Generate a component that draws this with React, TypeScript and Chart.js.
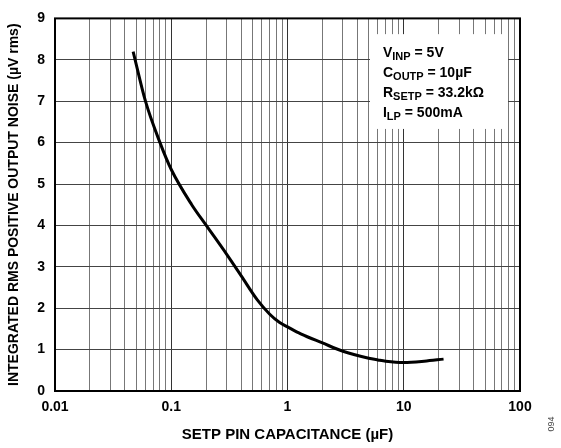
import React, { useEffect, useRef } from "react";
import { Chart, registerables } from "chart.js";

Chart.register(...registerables);

const capacitance = [0.047, 0.06, 0.08, 0.1, 0.15, 0.2, 0.3, 0.4, 0.55, 0.7, 0.85, 1, 1.3, 2, 3, 5, 6, 7, 10, 15, 22];
const noise = [8.2, 7.0, 6.0, 5.35, 4.5, 4.0, 3.3, 2.78, 2.2, 1.86, 1.66, 1.55, 1.38, 1.16, 0.96, 0.79, 0.75, 0.72, 0.69, 0.72, 0.77];

const xDecades = [0.01, 0.1, 1, 10];
const xMultipliers = [1, 2, 3, 4, 5, 6, 7, 8, 9];
const xMajorLabels = [0.01, 0.1, 1, 10, 100];
const yTicks = [0, 1, 2, 3, 4, 5, 6, 7, 8, 9];

const xTitle = "SETP PIN CAPACITANCE (µF)";
const yTitle = "INTEGRATED RMS POSITIVE OUTPUT NOISE (µV rms)";
const condLines: [string, string, string][] = [
  ["V", "INP", " = 5V"],
  ["C", "OUTP", " = 10µF"],
  ["R", "SETP", " = 33.2kΩ"],
  ["I", "LP", " = 500mA"],
];
const figureId = "094";

const FONT = "'Liberation Sans', Arial, Helvetica, sans-serif";

const overlayPlugin = {
  id: "overlay",
  beforeDatasetsDraw(chart: any) {
    const { ctx, scales } = chart;
    const xs = scales.x;
    const ys = scales.y;
    ctx.save();
    const bx0 = Math.round(xs.getPixelForValue(5)) + 1;
    const bx1 = Math.round(xs.getPixelForValue(80)) - 1;
    const by0 = ys.getPixelForValue(8.62);
    const by1 = ys.getPixelForValue(6.33);
    ctx.fillStyle = "#fff";
    ctx.fillRect(bx0, by0, bx1 - bx0, by1 - by0);
    ctx.fillStyle = "#000";
    ctx.textBaseline = "alphabetic";
    ctx.textAlign = "left";
    const tx = xs.getPixelForValue(6) + 5;
    let ty = ys.getPixelForValue(8.06);
    for (const [main, sub, rest] of condLines) {
      let x = tx;
      ctx.font = `bold 14px ${FONT}`;
      ctx.fillText(main, x, ty);
      x += ctx.measureText(main).width;
      ctx.font = `bold 11px ${FONT}`;
      ctx.fillText(sub, x, ty + 3);
      x += ctx.measureText(sub).width;
      ctx.font = `bold 14px ${FONT}`;
      ctx.fillText(rest, x, ty);
      ty += 19.8;
    }
    ctx.restore();
  },
  afterDraw(chart: any) {
    const { ctx, chartArea } = chart;
    ctx.save();
    ctx.strokeStyle = "#000";
    ctx.lineWidth = 2;
    ctx.strokeRect(chartArea.left, chartArea.top, chartArea.right - chartArea.left, chartArea.bottom - chartArea.top);
    ctx.translate(552, 424);
    ctx.rotate(-Math.PI / 2);
    ctx.font = `9px ${FONT}`;
    ctx.fillStyle = "#444";
    ctx.textAlign = "center";
    ctx.textBaseline = "middle";
    ctx.fillText(figureId, 0, 0);
    ctx.restore();
  },
};

export default function App() {
  const ref = useRef<HTMLCanvasElement>(null);
  useEffect(() => {
    if (!ref.current) return;
    const xTickValues: number[] = [];
    for (const d of xDecades) for (const m of xMultipliers) xTickValues.push(+(d * m).toPrecision(3));
    xTickValues.push(100);
    const chart = new Chart(ref.current, {
      type: "line",
      data: {
        datasets: [
          {
            data: capacitance.map((c, i) => ({ x: c, y: noise[i] })),
            borderColor: "#000",
            borderWidth: 3,
            pointRadius: 0,
            fill: false,
            cubicInterpolationMode: "monotone",
          },
        ],
      },
      options: {
        animation: false,
        responsive: false,
        layout: { padding: { top: 18, right: 41, left: 0, bottom: 0 } },
        plugins: { legend: { display: false }, tooltip: { enabled: false } },
        scales: {
          x: {
            type: "logarithmic",
            min: 0.01,
            max: 100,
            afterBuildTicks: (s: any) => {
              s.ticks = xTickValues.map((v) => ({ value: v, major: xMajorLabels.includes(v) }));
            },
            afterFit: (s: any) => {
              s.height = 57;
            },
            ticks: {
              autoSkip: false,
              maxRotation: 0,
              padding: 8,
              color: "#000",
              font: { family: FONT, size: 14, weight: "bold" },
              callback: (v: any) => (xMajorLabels.includes(Number(v)) ? String(v) : ""),
            },
            grid: {
              drawTicks: false,
              color: (c: any) => (c.tick && xMajorLabels.includes(c.tick.value) ? "#333" : "#777"),
              lineWidth: 1,
            },
            border: { display: false },
            title: {
              display: true,
              text: xTitle,
              color: "#000",
              font: { family: FONT, size: 15, weight: "bold" },
              padding: { top: 4, bottom: 4 },
            },
          },
          y: {
            type: "linear",
            min: 0,
            max: 9,
            afterBuildTicks: (s: any) => {
              s.ticks = yTicks.map((v) => ({ value: v }));
            },
            afterFit: (s: any) => {
              s.width = 55;
            },
            ticks: {
              padding: 10,
              color: "#000",
              font: { family: FONT, size: 14, weight: "bold" },
            },
            grid: { drawTicks: false, color: "#444", lineWidth: 1 },
            border: { display: false },
            title: {
              display: true,
              text: yTitle,
              color: "#000",
              font: { family: FONT, size: 14, weight: "bold" },
              padding: { top: 6, bottom: 6 },
            },
          },
        },
      },
      plugins: [overlayPlugin],
    } as any);
    return () => chart.destroy();
  }, []);
  return (
    <div style={{ position: "fixed", left: 0, top: 0, width: 561, height: 448, background: "#fff" }}>
      <canvas ref={ref} width={561} height={448} style={{ width: 561, height: 448 }} />
    </div>
  );
}
